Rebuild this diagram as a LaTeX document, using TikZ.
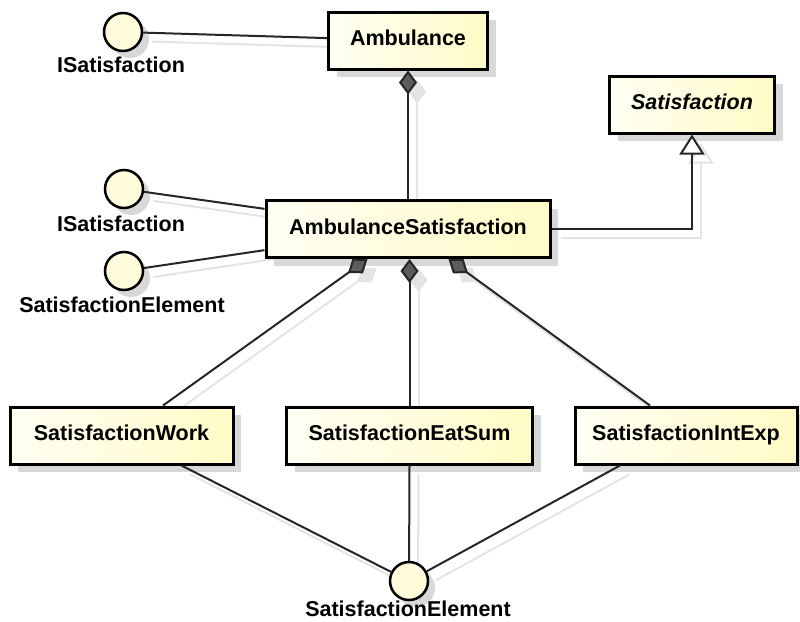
\documentclass[tikz,border=0pt]{standalone}
\usepackage{fontspec}
\setmainfont{Liberation Sans}
\usetikzlibrary{arrows.meta,shadows,calc}

\definecolor{boxlight}{HTML}{FFFFF4}
\definecolor{boxyellow}{HTML}{FFFBC6}
\definecolor{ifacefill}{HTML}{FFFDDC}
\definecolor{shadowgray}{HTML}{D8D8D8}
\definecolor{linkshadow}{HTML}{E4E4E4}
\definecolor{tipgray}{HTML}{5C5C5C}

\pgfdeclarelayer{bg}
\pgfsetlayers{bg,main}

% every association of the class diagram
\newcommand\umllinks{%
  \draw[link] (c1) -- (amb);
  \draw[link] (c2) -- (as);
  \draw[link] (c3) -- (as);
  \draw[link,comp] (as.north) -- (amb.south);
  \draw[link,gen] (as.east) -| (sat.south);
  \draw[link,comp] (swTop) -- (asL);
  \draw[link,comp] (se.north) -- (asM);
  \draw[link,comp] (siTop) -- (asR);
  \draw[link] (swBot) -- (c4);
  \draw[link] (se.south) -- (c4);
  \draw[link] (siBot) -- (c4);
}

\begin{document}
\begin{tikzpicture}[x=1pt,y=-1pt,
  every node/.style={font=\fontsize{21.5}{25}\selectfont\bfseries},
  classbox/.style={draw, line width=3pt, minimum height=57pt, inner sep=0pt,
    text height=16pt, text depth=6pt,
    left color=boxlight, right color=boxyellow,
    drop shadow={shadow xshift=8pt, shadow yshift=-8pt, fill=shadowgray, opacity=1}},
  iface/.style={circle, draw, line width=2.5pt, minimum size=38pt, inner sep=0pt,
    fill=ifacefill,
    drop shadow={shadow xshift=7pt, shadow yshift=-7pt, fill=shadowgray, opacity=1}},
  ifacelabel/.style={inner sep=0pt, anchor=base},
  link/.style={draw=black!85, line width=2pt},
  comp/.style={-{Diamond[length=24pt,width=18pt,fill=tipgray]}},
  gen/.style={-{Triangle[length=20pt,width=25pt,fill=white]}},
]
\useasboundingbox (0,0) rectangle (800,621);

% classes
\node[classbox, minimum width=159pt] (amb) at (408,40.5) {Ambulance};
\node[classbox, minimum width=165pt, font=\fontsize{21.5}{25}\selectfont\bfseries\itshape] (sat) at (692,104.5) {Satisfaction};
\node[classbox, minimum width=284pt] (as) at (408,229) {AmbulanceSatisfaction};
\node[classbox, minimum width=223pt] (sw) at (121.5,435.5) {SatisfactionWork};
\node[classbox, minimum width=246pt] (se) at (409.5,435.5) {SatisfactionEatSum};
\node[classbox, minimum width=222pt] (si) at (686,435.5) {SatisfactionIntExp};

% interfaces (lollipops)
\node[iface] (c1) at (123,32) {};
\node[ifacelabel] (l1) at (121,72) {ISatisfaction};
\node[iface] (c2) at (124,189) {};
\node[ifacelabel] (l2) at (121,231) {ISatisfaction};
\node[iface] (c3) at (124,271) {};
\node[ifacelabel] (l3) at (122,312) {SatisfactionElement};
\node[iface] (c4) at (409,581) {};
\node[ifacelabel] (l4) at (408,616) {SatisfactionElement};

% connector end points on the class borders
\coordinate (asL) at ($(as.south)+(-40.5,0)$);
\coordinate (asR) at ($(as.south)+(40.5,0)$);
\coordinate (asM) at (se.north |- as.south);
\coordinate (swTop) at ($(sw.north)+(41.5,0)$);
\coordinate (siTop) at ($(si.north)+(-36,0)$);
\coordinate (swBot) at ($(sw.south)+(60,0)$);
\coordinate (siBot) at ($(si.south)+(-66,0)$);

% soft shadows of the connectors
\begin{pgfonlayer}{bg}
\begin{scope}[transform canvas={shift={(9pt,-9pt)}},
  link/.style={draw=linkshadow, line width=2pt},
  comp/.style={-{Diamond[length=24pt,width=18pt,fill=linkshadow]}},
  gen/.style={-{Triangle[length=20pt,width=25pt,fill=white]}}]
  \umllinks
\end{scope}
\end{pgfonlayer}

% connectors
\umllinks
\end{tikzpicture}
\end{document}
